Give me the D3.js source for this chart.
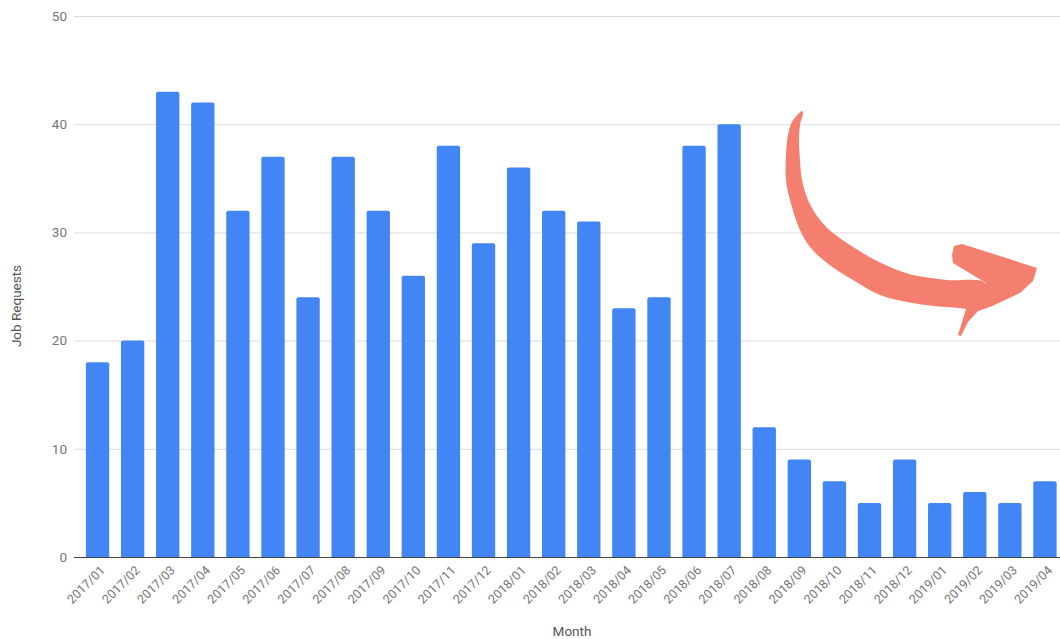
<!DOCTYPE html>
<html>
<head>
<meta charset="utf-8">
<script src="https://cdn.jsdelivr.net/npm/d3@7"></script>
<style>
  html, body { margin: 0; padding: 0; background: #fff; }
  svg { display: block; font-family: Roboto, "Noto Sans", Arial, sans-serif; }
</style>
</head>
<body>
<svg id="chart" width="1060" height="639"></svg>
<script>
const months = ["2017/01","2017/02","2017/03","2017/04","2017/05","2017/06","2017/07","2017/08","2017/09","2017/10","2017/11","2017/12",
  "2018/01","2018/02","2018/03","2018/04","2018/05","2018/06","2018/07","2018/08","2018/09","2018/10","2018/11","2018/12",
  "2019/01","2019/02","2019/03","2019/04"];
const jobRequests = [18,20,43,42,32,37,24,37,32,26,38,29,36,32,31,23,24,38,40,12,9,7,5,9,5,6,5,7];
const yTicks = [0,10,20,30,40,50];

const svg = d3.select("#chart");
const plotLeft = 74, plotRight = 1060, plotTop = 16, plotBottom = 557;

const x = d3.scaleBand().domain(months).range([80, 1062.5]).paddingInner(0.335).paddingOuter(0.1675);
const y = d3.scaleLinear().domain([0, 50]).range([plotBottom, plotTop]);

// gridlines
svg.append("g").selectAll("line").data(yTicks.filter(d => d !== 0)).join("line")
  .attr("x1", plotLeft).attr("x2", plotRight)
  .attr("y1", d => y(d) + 0.5).attr("y2", d => y(d) + 0.5)
  .attr("stroke", "#dcdcdc").attr("stroke-width", 1);

// y tick labels
svg.append("g").selectAll("text").data(yTicks).join("text")
  .attr("x", 67).attr("y", d => y(d)).attr("dy", "0.35em")
  .attr("text-anchor", "end").attr("font-size", 13.5).attr("fill", "#757575")
  .text(d => d);

// bars with rounded top corners
const r = 2;
svg.append("g").selectAll("path").data(months).join("path")
  .attr("fill", "#4285f4")
  .attr("d", (m, i) => {
    const x0 = x(m), w = x.bandwidth(), y0 = y(jobRequests[i]), yb = y(0);
    return `M${x0},${yb}V${y0 + r}Q${x0},${y0} ${x0 + r},${y0}H${x0 + w - r}Q${x0 + w},${y0} ${x0 + w},${y0 + r}V${yb}Z`;
  });

// baseline
svg.append("line").attr("x1", plotLeft).attr("x2", plotRight)
  .attr("y1", plotBottom + 0.5).attr("y2", plotBottom + 0.5)
  .attr("stroke", "#444").attr("stroke-width", 1.2);

// x labels
svg.append("g").selectAll("text").data(months).join("text")
  .attr("transform", m => `translate(${x(m) + x.bandwidth() / 2 + 5},${plotBottom + 11}) rotate(-45)`)
  .attr("text-anchor", "end").attr("dy", "0.35em")
  .attr("font-size", 12.5).attr("fill", "#757575")
  .text(m => m);

// axis titles
svg.append("text").attr("x", 572).attr("y", 636).attr("text-anchor", "middle")
  .attr("font-size", 13.5).attr("fill", "#555").text("Month");
svg.append("text").attr("transform", "translate(16,306) rotate(-90)").attr("text-anchor", "middle")
  .attr("dy", "0.35em").attr("font-size", 13.5).attr("fill", "#555").text("Job Requests");

// decorative arrow annotation (shaft + head)
const arrowColor = "#f47f6e";
const shaftPts = [
  [802,111],[792,122],[788,135],[786,155],[786,180],[790,200],[800,230],[810,247],[827,263],[853,280],[880,295],[913,303],[947,307],[985,306],
  [985,283],[947,280],[913,275],[900,271],[877,261],[853,247],[833,233],[820,220],[808,200],[802,180],[800,160],[799,140],[800,125],[803,113]
];
const headPts = [
  [966,309],[962,322],[958,335],[961,336],[968,322],[978,311],[990,307],[1020,293],[1033,281],[1037,268],
  [1000,256],[962,244],[954,246],[952,255],[953,263],[986,283],[966,290]
];
svg.append("path")
  .attr("d", d3.line().curve(d3.curveCatmullRomClosed.alpha(0.5))(shaftPts))
  .attr("fill", arrowColor);
svg.append("path")
  .attr("d", d3.line().curve(d3.curveLinearClosed)(headPts))
  .attr("fill", arrowColor);
</script>
</body>
</html>
